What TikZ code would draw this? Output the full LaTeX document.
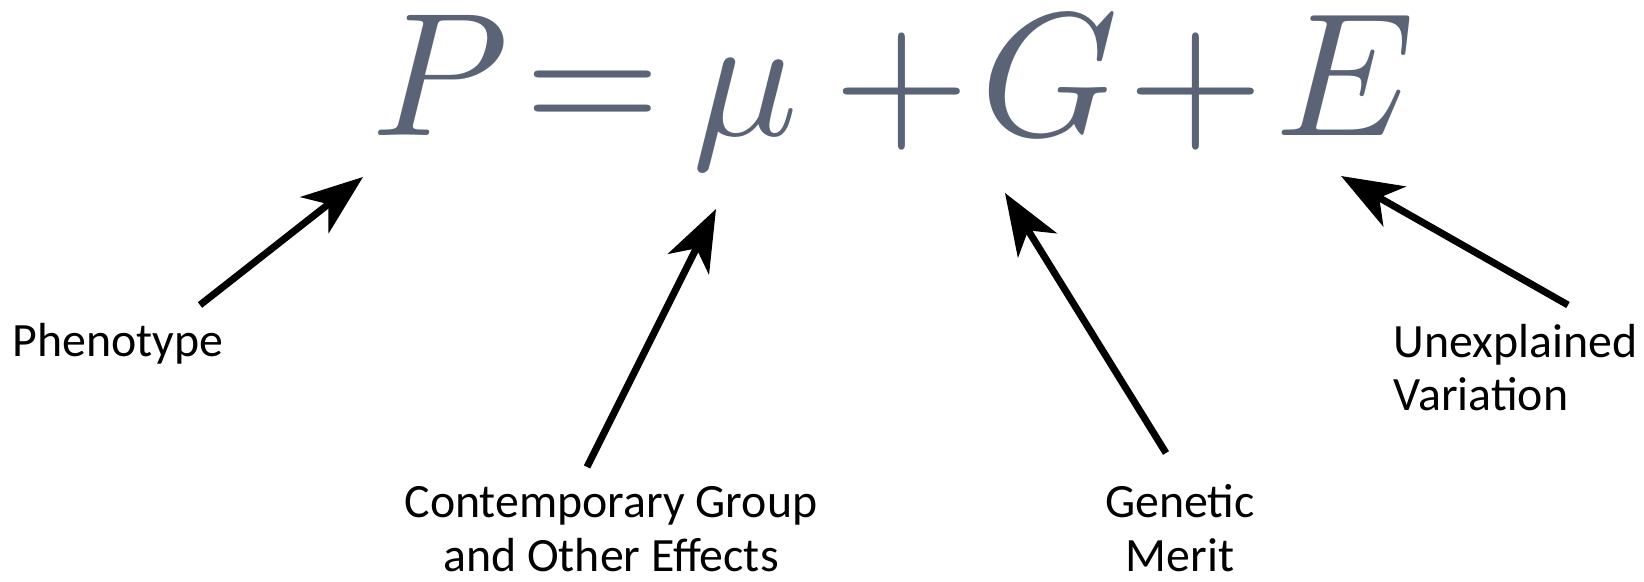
\documentclass[tikz,border=0pt]{standalone}
\usepackage{graphicx}
\usepackage{fontspec}
\setmainfont{Carlito}
\usepackage{tikz}
\usetikzlibrary{arrows.meta}
\definecolor{eqgray}{RGB}{91,99,119}

% big symbol of the equation (10pt math, scaled up)
\newcommand{\eqsym}[1]{\scalebox{5.0}{$#1$}}

\begin{document}
\begin{tikzpicture}[x=0.01cm, y=-0.01cm, line join=round,
    symb/.style={inner sep=0pt, anchor=base, text=eqgray},
    lbl/.style={inner sep=0pt, anchor=base, align=center, font=\fontsize{13.6}{15.1}\selectfont},
    pointer/.style={line width=2pt, -{Stealth[length=17.5pt, width=13pt, inset=5pt]}}]

    % Canvas fixed to the reference size (pixel units, y downwards)
    \useasboundingbox (0,0) rectangle (1644,582);

    % The model equation, one node per symbol
    \node[symb] (nP)     at (440,136) {\eqsym{P}};
    \node[symb] (nEq)    at (593,136) {\eqsym{=}};
    \node[symb] (nMu)    at (745,136) {\eqsym{\mu}};
    \node[symb] (nPlusA) at (902,136) {\eqsym{+}};
    \node[symb] (nG)     at (1050,136) {\eqsym{G}};
    \node[symb] (nPlusB) at (1196,136) {\eqsym{+}};
    \node[symb] (nE)     at (1345,136) {\eqsym{E}};

    % Labels under the equation (base = last line)
    \node[lbl] (pheno)   at (118,357)  {Phenotype};
    \node[lbl] (contemp) at (611,571)  {Contemporary Group\\and Other Effects};
    \node[lbl] (genetic) at (1180,571) {Genetic\\Merit};
    \node[lbl, align=left, anchor=base west] (unexpl) at (1393,411) {Unexplained\\Variation};

    % Arrow ends (tail near label, tip near symbol)
    \coordinate (phenoTail)   at (200,305);
    \coordinate (phenoTip)    at (363,177);
    \coordinate (contempTail) at (587,467);
    \coordinate (contempTip)  at (716,209);
    \coordinate (geneticTail) at (1166,453);
    \coordinate (geneticTip)  at (1005,193);
    \coordinate (unexplTail)  at (1568,305);
    \coordinate (unexplTip)   at (1341,176);

    % Arrows
    \draw[pointer] (phenoTail) -- (phenoTip);
    \draw[pointer] (contempTail) -- (contempTip);
    \draw[pointer] (geneticTail) -- (geneticTip);
    \draw[pointer] (unexplTail) -- (unexplTip);

\end{tikzpicture}
\end{document}
